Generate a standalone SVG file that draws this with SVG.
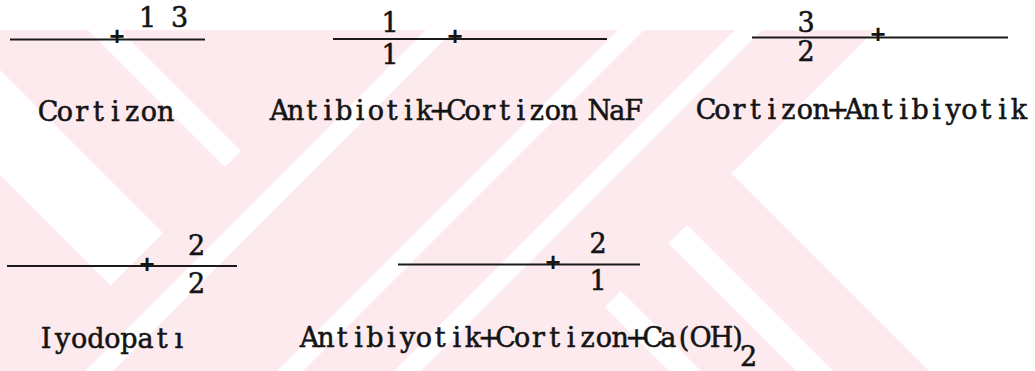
<svg xmlns="http://www.w3.org/2000/svg" width="1035" height="371" viewBox="0 0 1035 371">
  <defs>
    <style>
      .wm{fill:#fdeaee}
      .gap{fill:#ffffff}
      /* typewriter-like lettering: every glyph is centred in a fixed cell */
      .t{font-family:"DejaVu Serif","Liberation Serif",serif;font-size:27px;fill:#141414;stroke:#141414;stroke-width:0.55;text-anchor:middle}
      .plus{font-family:"Liberation Mono","DejaVu Sans Mono",monospace;font-size:26px;font-weight:bold;fill:#141414;text-anchor:middle}
      .bar{stroke:#1a1a1a;stroke-width:2.2;fill:none}
    </style>
  </defs>

  <rect width="1035" height="371" fill="#ffffff"/>

  <!-- faint striped background emblem -->
  <g id="emblem">
    <polygon class="wm" points="0,30 875,30 731.5,173.5 929,371 0,371"/>
    <!-- gaps in the upper-left "\" band -->
    <polygon class="gap" points="88,30 120,30 241,151 225,167"/>
    <polygon class="gap" points="0,70 163,233 110.5,285.5 0,175"/>
    <!-- gaps in the "/" band -->
    <polygon class="gap" points="426,30 454,30 113,371 85,371"/>
    <polygon class="gap" points="618,30 644,30 303,371 277,371"/>
    <polygon class="gap" points="735,30 762,30 421,371 394,371"/>
    <!-- gaps in the lower-right "\" band -->
    <polygon class="gap" points="687,225 833,371 796,371 668.5,243.5"/>
    <polygon class="gap" points="621,291 701,371 669,371 605,307"/>
  </g>

  <!-- typed rules with their junction marks -->
  <g id="connectors">
    <line class="bar" x1="10" y1="39.5" x2="205" y2="39.5"/>
    <line class="bar" x1="333" y1="39" x2="607" y2="39"/>
    <line class="bar" x1="752" y1="37.5" x2="1008" y2="37.5"/>
    <line class="bar" x1="7" y1="266" x2="237" y2="266"/>
    <line class="bar" x1="398" y1="264.5" x2="640" y2="264.5"/>
    <text class="plus" x="117" y="44.5">+</text>
    <text class="plus" x="455" y="45">+</text>
    <text class="plus" x="878" y="43">+</text>
    <text class="plus" x="147" y="272.5">+</text>
    <text class="plus" x="553" y="270.5">+</text>
  </g>

  <g id="node-cortizon">
    <text class="t" x="147.5 163.5 179.5" y="27">1 3</text>
    <text class="t" x="48 64.8 81.6 98.4 115.2 132 148.8 165.6" y="121">Cortizon</text>
  </g>

  <g id="node-antibiotik-cortizon-naf">
    <text class="t" x="390" y="32">1</text>
    <text class="t" x="390" y="64">1</text>
    <text class="t" x="279.5 295.6 311.7 327.8 343.9 360 376 392.1 408.2 424.3 440.4 456.5 472.6 488.7 504.8 520.9 536.9 553 569.1 585.2 599.3 617.4 633.5" y="120">Antibiotik+Cortizon NaF</text>
  </g>

  <g id="node-cortizon-antibiyotik">
    <text class="t" x="806" y="32">3</text>
    <text class="t" x="806" y="61">2</text>
    <text class="t" x="706 722.5 738.9 755.4 771.9 788.4 804.8 821.3 837.8 854.2 870.7 887.2 903.6 920.1 936.6 953.1 969.5 986 1002.5 1018.9" y="119">Cortizon+Antibiyotik</text>
  </g>

  <g id="node-iyodopati">
    <text class="t" x="196.5" y="255">2</text>
    <text class="t" x="196.5" y="293">2</text>
    <text class="t" x="46 62.6 79.2 95.8 112.4 129 145.6 162.2 178.8" y="348">Iyodopatı</text>
  </g>

  <g id="node-antibiyotik-cortizon-caoh2">
    <text class="t" x="598" y="253">2</text>
    <text class="t" x="598" y="290">1</text>
    <text class="t" x="309.5 325.9 342.2 358.6 374.9 391.3 407.6 424 440.3 456.7 473 489.4 505.7 522.1 538.4 554.8 571.1 587.5 603.8 620.2 636.5 652.9 668.2 684 700.5 721.5 737.5" y="347">Antibiyotik+Cortizon+Ca(OH)</text>
    <text class="t" x="748.5" y="366">2</text>
  </g>
</svg>
